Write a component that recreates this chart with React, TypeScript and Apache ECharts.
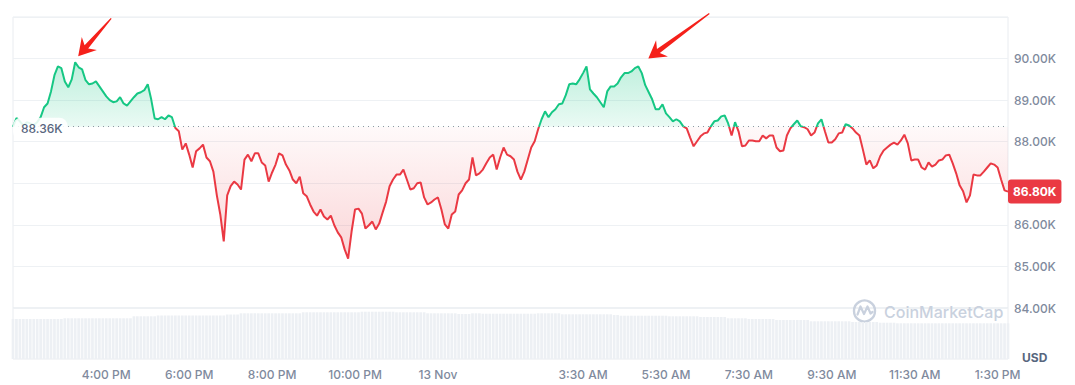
import React, { useEffect, useRef } from 'react';
import * as echarts from 'echarts';

// BTC / USD, 24h, 5-minute closes in thousands of USD (12 Nov 1:45 PM -> 13 Nov 1:45 PM)
const openPrice = 88.36;
const prices = [
  88.36, 88.57, 88.49, 88.39, 88.47, 88.44, 88.40, 88.47, 88.59, 88.83,
  88.92, 89.21, 89.60, 89.81, 89.77, 89.45, 89.31, 89.50, 89.91, 89.79,
  89.74, 89.48, 89.38, 89.40, 89.45, 89.33, 89.21, 89.09, 89.00, 88.95,
  88.97, 89.07, 88.92, 88.87, 88.97, 89.07, 89.16, 89.19, 89.24, 89.38,
  89.02, 88.56, 88.54, 88.59, 88.54, 88.63, 88.59, 88.33, 88.25, 87.81,
  87.96, 87.69, 87.38, 87.77, 87.84, 87.93, 87.62, 87.53, 87.28, 86.71,
  86.25, 85.60, 86.71, 86.93, 87.04, 86.97, 86.85, 87.57, 87.69, 87.53,
  87.72, 87.72, 87.50, 87.43, 87.04, 87.26, 87.45, 87.72, 87.67, 87.45,
  87.31, 87.09, 87.00, 87.16, 86.76, 86.69, 86.49, 86.32, 86.22, 86.37,
  86.20, 86.13, 86.22, 85.99, 85.82, 85.70, 85.41, 85.19, 85.84, 86.37,
  86.39, 86.27, 85.91, 85.99, 86.08, 85.89, 86.03, 86.30, 86.56, 86.93,
  87.09, 87.21, 87.21, 87.33, 87.09, 86.85, 86.88, 87.00, 87.02, 86.66,
  86.49, 86.54, 86.61, 86.66, 86.37, 86.01, 85.91, 86.25, 86.32, 86.73,
  86.83, 87.00, 87.09, 87.62, 87.19, 87.24, 87.33, 87.48, 87.62, 87.69,
  87.33, 87.62, 87.86, 87.69, 87.65, 87.57, 87.28, 87.09, 87.28, 87.57,
  87.86, 88.01, 88.30, 88.54, 88.73, 88.59, 88.71, 88.78, 88.90, 88.92,
  89.12, 89.38, 89.40, 89.38, 89.50, 89.65, 89.81, 89.26, 89.16, 89.07,
  88.95, 88.83, 89.21, 89.33, 89.33, 89.40, 89.55, 89.65, 89.65, 89.69,
  89.77, 89.81, 89.65, 89.36, 89.19, 89.02, 88.78, 88.78, 88.90, 88.68,
  88.59, 88.49, 88.54, 88.49, 88.37, 88.32, 88.10, 87.89, 88.01, 88.13,
  88.20, 88.22, 88.37, 88.49, 88.51, 88.61, 88.63, 88.44, 88.15, 88.47,
  88.25, 87.89, 87.91, 88.03, 88.03, 88.01, 88.01, 88.15, 88.08, 88.15,
  88.15, 87.86, 87.77, 87.79, 88.15, 88.32, 88.42, 88.51, 88.37, 88.35,
  88.30, 88.15, 88.22, 88.44, 88.54, 88.25, 87.98, 87.98, 88.06, 88.20,
  88.22, 88.42, 88.39, 88.32, 88.22, 88.15, 87.81, 87.45, 87.55, 87.36,
  87.43, 87.65, 87.79, 87.86, 87.93, 87.98, 87.93, 88.03, 88.17, 87.96,
  87.55, 87.57, 87.57, 87.38, 87.33, 87.50, 87.40, 87.45, 87.55, 87.57,
  87.67, 87.69, 87.48, 87.24, 86.95, 86.81, 86.54, 86.71, 87.21, 87.19,
  87.19, 87.28, 87.38, 87.48, 87.45, 87.38, 87.09, 86.83, 86.80,
];

// Rolling 24h volume (billions USD) as runs of [bar count, value]
const volumeRuns: [number, number][] = [
  [15, 94.1], [20, 95.8], [7, 100.5], [20, 102.4], [4, 104.7], [18, 107.5],
  [17, 109.9], [10, 111.3], [9, 109.9], [9, 107.5], [4, 105.9], [3, 107.5],
  [16, 106.6], [7, 107.5], [15, 105.2], [2, 103.5], [14, 101.9], [9, 100.5],
  [8, 98.8], [6, 95.8], [8, 94.1], [10, 91.8], [12, 88.7], [8, 87.1],
  [5, 85.4], [33, 84.0],
];

const tickLabels = [
  '4:00 PM', '6:00 PM', '8:00 PM', '10:00 PM', '13 Nov',
  '3:30 AM', '5:30 AM', '7:30 AM', '9:30 AM', '11:30 AM', '1:30 PM',
];

// Peaks pointed at by the red arrows
const arrowPeaks = [18, 181];

const startMinute = 13 * 60 + 45;
const stepMinutes = 5;

function timeLabel(totalMinutes: number): string {
  const m = totalMinutes % 1440;
  if (m === 0) return '13 Nov';
  const h = Math.floor(m / 60);
  const mm = m % 60;
  const h12 = h % 12 === 0 ? 12 : h % 12;
  return `${h12}:${String(mm).padStart(2, '0')} ${h < 12 ? 'AM' : 'PM'}`;
}

const times = prices.map((_, i) => timeLabel(startMinute + i * stepMinutes));
const volumes = volumeRuns.flatMap(([n, v]) => Array(n).fill(v));
const lastPrice = prices[prices.length - 1];

const UP = '#16c784';
const DOWN = '#ea3943';
const AXIS_TEXT = '#808a9d';
const GRID_LINE = '#eef1f4';
const FONT = 'Inter, "Noto Sans", sans-serif';

const fmtK = (v: number) => `${v.toFixed(2)}K`;

function arrowPoints(tip: number[], tail: number[]): number[][] {
  const dx = tail[0] - tip[0];
  const dy = tail[1] - tip[1];
  const len = Math.hypot(dx, dy);
  const ux = dx / len;
  const uy = dy / len;
  const nx = -uy;
  const ny = ux;
  const P = (a: number, b: number) => [tip[0] + ux * a + nx * b, tip[1] + uy * a + ny * b];
  return [P(0, 0), P(17, 10), P(12.5, 2.4), P(len, 0.6), P(len, -0.6), P(12.5, -2.4), P(17, -10)];
}

export default function App() {
  const ref = useRef<HTMLDivElement>(null);

  useEffect(() => {
    if (!ref.current) return;
    const chart = echarts.init(ref.current, undefined, { renderer: 'svg' });

    const hi = Math.max(...prices);
    const lo = Math.min(...prices);
    const split = (hi - openPrice) / (hi - lo);

    chart.setOption({
      animation: false,
      backgroundColor: '#ffffff',
      grid: [
        { left: 13, right: 67, top: 17, bottom: 77, show: true, borderColor: '#e9ecf0', borderWidth: 1 },
        { left: 13, right: 67, top: 308, bottom: 26, show: true, borderColor: '#e9ecf0', borderWidth: 1 },
      ],
      visualMap: {
        type: 'piecewise',
        show: false,
        seriesIndex: 0,
        dimension: 1,
        pieces: [
          { gt: 0, lte: openPrice, color: DOWN },
          { gt: openPrice, lte: 1000, color: UP },
        ],
      },
      xAxis: [
        {
          type: 'category',
          gridIndex: 0,
          data: times,
          boundaryGap: false,
          axisLine: { show: false },
          axisTick: { show: false },
          axisLabel: { show: false },
          splitLine: { show: false },
        },
        {
          type: 'category',
          gridIndex: 1,
          data: times,
          boundaryGap: false,
          axisLine: { show: false },
          axisTick: { show: false },
          splitLine: { show: false },
          axisLabel: {
            interval: (_i: number, v: string) => tickLabels.includes(v),
            color: AXIS_TEXT,
            fontSize: 12,
            fontWeight: 500,
            fontFamily: FONT,
            margin: 9,
          },
        },
      ],
      yAxis: [
        {
          type: 'value',
          gridIndex: 0,
          position: 'right',
          min: 84,
          max: 91,
          interval: 1,
          axisLine: { show: false },
          axisTick: { show: false },
          splitLine: { lineStyle: { color: GRID_LINE, width: 1 } },
          axisLabel: {
            // the current-price tag sits over the nearest tick label
            formatter: (v: number) => (Math.abs(v - lastPrice) < 0.45 ? '' : fmtK(v)),
            showMaxLabel: false,
            color: AXIS_TEXT,
            fontSize: 12,
            fontWeight: 500,
            fontFamily: FONT,
            margin: 6,
          },
          name: 'USD',
          nameLocation: 'start',
          nameGap: 49,
          nameTextStyle: {
            color: '#58667e',
            fontSize: 12,
            fontWeight: 'bold',
            fontFamily: FONT,
            align: 'left',
            verticalAlign: 'middle',
            padding: [0, 0, 0, 14],
          },
        },
        {
          type: 'value',
          gridIndex: 1,
          min: 0,
          max: 120,
          show: false,
          splitLine: { show: false },
        },
      ],
      series: [
        {
          type: 'line',
          name: 'Price',
          xAxisIndex: 0,
          yAxisIndex: 0,
          data: prices,
          showSymbol: false,
          lineStyle: { width: 2 },
          areaStyle: {
            origin: openPrice,
            color: new echarts.graphic.LinearGradient(0, 0, 0, 1, [
              { offset: 0, color: 'rgba(22,199,132,0.40)' },
              { offset: split - 0.001, color: 'rgba(22,199,132,0.13)' },
              { offset: split, color: 'rgba(234,57,67,0.04)' },
              { offset: 1, color: 'rgba(234,57,67,0.30)' },
            ]),
          },
          markLine: {
            silent: true,
            symbol: ['none', 'none'],
            animation: false,
            data: [
              {
                yAxis: openPrice,
                lineStyle: { color: '#8f96a3', type: [1, 4], width: 1 },
                label: {
                  position: 'insideStart',
                  distance: 0,
                  offset: [0, 2],
                  formatter: (p: any) => fmtK(p.value),
                  color: '#58667e',
                  fontSize: 12,
                  fontWeight: 500,
                  fontFamily: FONT,
                  backgroundColor: 'rgba(255,255,255,0.88)',
                  borderRadius: 8,
                  padding: [5, 5, 5, 8],
                },
              },
              {
                yAxis: lastPrice,
                lineStyle: { color: 'rgba(0,0,0,0)', width: 0 },
                label: {
                  position: 'end',
                  distance: 0,
                  formatter: (p: any) => fmtK(p.value),
                  color: '#ffffff',
                  fontSize: 12,
                  fontWeight: 'bold',
                  fontFamily: FONT,
                  backgroundColor: DOWN,
                  borderRadius: 3,
                  padding: [6, 5, 6, 5],
                },
              },
            ],
          },
        },
        {
          type: 'bar',
          name: 'Volume',
          xAxisIndex: 1,
          yAxisIndex: 1,
          data: volumes,
          barWidth: 2.7,
          itemStyle: { color: '#edf0f4' },
          silent: true,
        },
      ],
    });

    // Red arrows pointing at the two highs, anchored to their data points
    const tails = [[33, -38], [61, -45]];
    const tipOffsets = [[3, -6], [10, -8]];
    const arrows = arrowPeaks.map((idx, k) => {
      const p = chart.convertToPixel({ xAxisIndex: 0, yAxisIndex: 0 }, [idx, prices[idx]]) as number[];
      const tip = [p[0] + tipOffsets[k][0], p[1] + tipOffsets[k][1]];
      const tail = [tip[0] + tails[k][0], tip[1] + tails[k][1]];
      return {
        type: 'polygon',
        silent: true,
        z: 100,
        shape: { points: arrowPoints(tip, tail) },
        style: { fill: '#f5201a' },
      };
    });

    chart.setOption({
      graphic: [
        ...arrows,
        {
          type: 'group',
          silent: true,
          z: 50,
          children: [
            {
              type: 'circle',
              shape: { cx: 864.5, cy: 311, r: 10.5 },
              style: { fill: 'none', stroke: '#c9d1de', lineWidth: 2.4 },
            },
            {
              type: 'polyline',
              shape: {
                points: [[857.5, 314.5], [860.5, 306.5], [864, 314], [867.5, 306.5], [870.5, 313.5], [872.5, 312]],
              },
              style: { fill: 'none', stroke: '#c9d1de', lineWidth: 2.2, lineJoin: 'round', lineCap: 'round' },
            },
            {
              type: 'text',
              x: 884,
              y: 312,
              style: {
                text: 'CoinMarketCap',
                fill: '#c9d1de',
                fontSize: 16,
                fontWeight: 500,
                fontFamily: FONT,
                verticalAlign: 'middle',
              },
            },
          ],
        },
      ],
    });

    return () => chart.dispose();
  }, []);

  return (
    <div
      ref={ref}
      style={{ position: 'fixed', left: 0, top: 0, width: 1075, height: 385, background: '#fff' }}
    />
  );
}
